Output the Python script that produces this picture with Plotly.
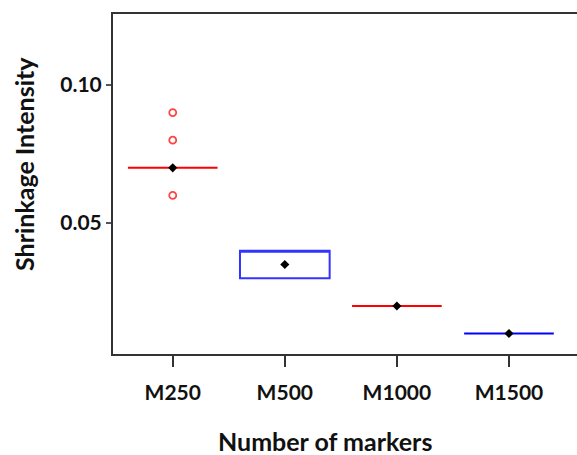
import plotly.graph_objects as go

categories = ["M250", "M500", "M1000", "M1500"]
q1 = [0.07, 0.03, 0.02, 0.01]
median = [0.07, 0.04, 0.02, 0.01]
q3 = [0.07, 0.04, 0.02, 0.01]
means = [0.07, 0.035, 0.02, 0.01]
box_colors = ["#FF0000", "#3333FF", "#FF0000", "#0000FF"]
outlier_cat = ["M250", "M250", "M250"]
outlier_vals = [0.09, 0.08, 0.06]
y_ticks = [0.05, 0.10]
y_ticktext = ["0.05", "0.10"]

FONT = "Lato"
fig = go.Figure()
for i, c in enumerate(categories):
    fig.add_trace(go.Box(
        x=[c], q1=[q1[i]], median=[median[i]], q3=[q3[i]],
        lowerfence=[q1[i]], upperfence=[q3[i]],
        line=dict(color=box_colors[i], width=2),
        fillcolor="rgba(255,255,255,0)", width=0.8,
        boxpoints=False, showlegend=False, hoverinfo="skip",
    ))

fig.add_trace(go.Scatter(
    x=outlier_cat, y=outlier_vals, mode="markers",
    marker=dict(symbol="circle-open", size=7, color="#FF4444", line=dict(width=1.8)),
    showlegend=False,
))
fig.add_trace(go.Scatter(
    x=categories, y=means, mode="markers",
    marker=dict(symbol="diamond", size=7, color="black"),
    showlegend=False,
))

W = 577 - 113
H = 354 - 14
fig.update_layout(
    width=577, height=455,
    margin=dict(l=113, r=0, t=14, b=101),
    plot_bgcolor="white", paper_bgcolor="white",
    font=dict(family=FONT, color="#111111"),
    xaxis=dict(
        type="category", categoryorder="array", categoryarray=categories,
        range=[-0.533, 3.607],
        showline=True, mirror=True, linecolor="#333333", linewidth=2,
        ticks="outside", ticklen=11, tickwidth=2, tickcolor="#333333",
        ticklabelstandoff=8,
        tickfont=dict(family=FONT, size=21, color="#111111", weight="bold"),
        showgrid=False, zeroline=False,
    ),
    yaxis=dict(
        range=[0.0026, 0.1257],
        tickvals=y_ticks, ticktext=y_ticktext,
        showline=True, linecolor="#333333", linewidth=2,
        ticks="outside", ticklen=5, tickwidth=1.5, tickcolor="#555555",
        tickfont=dict(family=FONT, size=21, color="#111111", weight="bold"),
        showgrid=False, zeroline=False,
    ),
    annotations=[
        dict(text="<b>Number of markers</b>", xref="paper", yref="paper",
             x=(325 - 113) / W, y=-(441 - 354) / H, xanchor="center", yanchor="middle",
             showarrow=False, font=dict(family=FONT, size=25, color="#111111")),
        dict(text="<b>Shrinkage Intensity</b>", xref="paper", yref="paper",
             x=-(113 - 24) / W, y=(354 - 164) / H, xanchor="center", yanchor="middle",
             textangle=-90,
             showarrow=False, font=dict(family=FONT, size=25, color="#111111")),
    ],
)

fig.write_html("out.html", config={"displayModeBar": False},
               post_script="document.body.style.margin='0';document.body.style.overflow='hidden';")
